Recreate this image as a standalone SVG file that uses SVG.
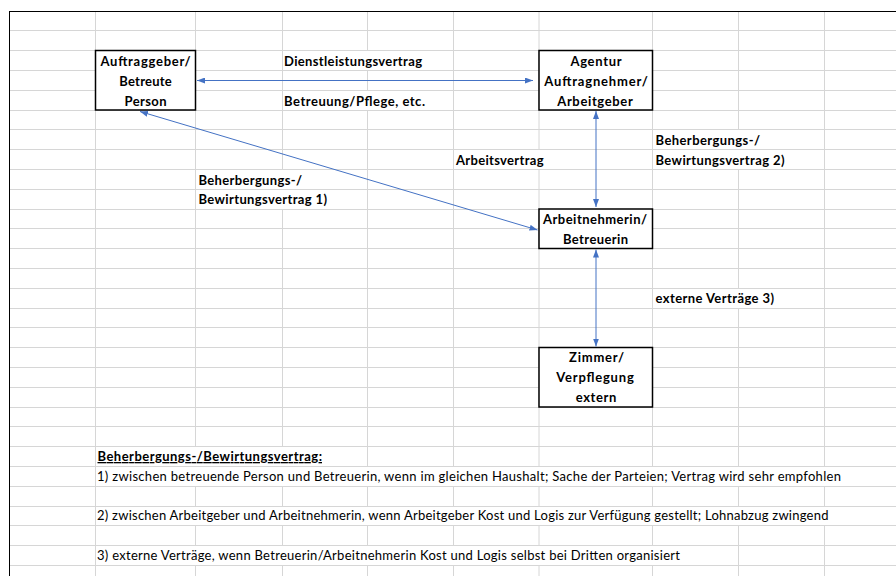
<svg xmlns="http://www.w3.org/2000/svg" width="896" height="576" viewBox="0 0 896 576">
<style>
  .grid{stroke:#d6d6d6;stroke-width:1;fill:none}
  .border{stroke:#000;stroke-width:1;fill:none}
  .box{fill:#fff;stroke:#000;stroke-width:1.5}
  .b{font-family:Lato,"Liberation Sans",sans-serif;font-weight:bold;font-size:13px;fill:#000}
  .r{font-family:Lato,"Liberation Sans",sans-serif;font-size:13px;fill:#000}
  .c{text-anchor:middle}
  .conn{stroke:#4472C4;stroke-width:1;fill:none;marker-start:url(#ah);marker-end:url(#ah)}
</style>
<defs>
  <marker id="ah" viewBox="0 0 8 6" refX="8" refY="3" markerWidth="8" markerHeight="6" markerUnits="userSpaceOnUse" orient="auto-start-reverse">
    <path d="M0,0 L8,3 L0,6 z" fill="#4472C4"/>
  </marker>
</defs>
<rect width="896" height="576" fill="#fff"/>
<g id="grid">
  <path class="grid" d="M9.5 30.5H896M9.5 50.5H896M9.5 70.5H896M9.5 90.5H896M9.5 110.5H896M9.5 129.5H896M9.5 149.5H896M9.5 169.5H896M9.5 189.5H896M9.5 209.5H896M9.5 228.5H896M9.5 248.5H896M9.5 268.5H896M9.5 288.5H896M9.5 308.5H896M9.5 327.5H896M9.5 347.5H896M9.5 367.5H896M9.5 387.5H896M9.5 407.5H896M9.5 426.5H896M9.5 446.5H896M9.5 466.5H896M9.5 486.5H896M9.5 506.5H896M9.5 525.5H896M9.5 545.5H896M9.5 565.5H896"/>
  <path class="grid" d="M95.5 11.5V576
    M195.5 11.5V446.5M195.5 486.5V506.5M195.5 525.5V545.5M195.5 565.5V576
    M282.5 11.5V169.5M282.5 209.5V446.5M282.5 486.5V506.5M282.5 525.5V545.5M282.5 565.5V576
    M367.5 11.5V50.5M367.5 70.5V90.5M367.5 110.5V466.5M367.5 486.5V506.5M367.5 525.5V545.5M367.5 565.5V576
    M453.5 11.5V466.5M453.5 486.5V506.5M453.5 525.5V545.5M453.5 565.5V576
    M539 11.5V149.5M539 169.5V466.5M539 486.5V506.5M539 525.5V545.5M539 565.5V576
    M652.5 11.5V466.5M652.5 486.5V506.5M652.5 525.5V545.5M652.5 565.5V576
    M738.5 11.5V129.5M738.5 169.5V288.5M738.5 308.5V466.5M738.5 486.5V506.5M738.5 525.5V576
    M824.5 11.5V466.5M824.5 486.5V506.5M824.5 525.5V576"/>
  <path class="border" d="M9 11.5H896M9.5 11V576"/>
</g>
<g id="auftraggeber">
  <rect class="box" x="95.5" y="50.5" width="100" height="59.5"/>
  <text class="b c" x="145.5" y="66" textLength="90">Auftraggeber/</text>
  <text class="b c" x="145.5" y="85.75" textLength="52.5">Betreute</text>
  <text class="b c" x="145.5" y="105.5" textLength="42">Person</text>
</g>
<g id="agentur">
  <rect class="box" x="539" y="50.5" width="113.5" height="59.5"/>
  <text class="b c" x="596" y="66" textLength="51">Agentur</text>
  <text class="b c" x="596" y="85.75" textLength="103.5">Auftragnehmer/</text>
  <text class="b c" x="595" y="105.5" textLength="75.5">Arbeitgeber</text>
</g>
<g id="arbeitnehmerin">
  <rect class="box" x="539" y="209" width="113.5" height="39.5"/>
  <text class="b c" x="595" y="224" textLength="104">Arbeitnehmerin/</text>
  <text class="b c" x="595.5" y="243.75" textLength="65">Betreuerin</text>
</g>
<g id="zimmer">
  <rect class="box" x="539" y="347.5" width="113.5" height="59.5"/>
  <text class="b c" x="596.5" y="362.25" textLength="55">Zimmer/</text>
  <text class="b c" x="595" y="382" textLength="77.5">Verpflegung</text>
  <text class="b c" x="596" y="401.75" textLength="40.5">extern</text>
</g>
<g id="connectors">
  <path class="conn" d="M197 80.5H533"/>
  <path class="conn" d="M596 111V207"/>
  <path class="conn" d="M140 111.5L537.5 230"/>
  <path class="conn" d="M596 249.5V346.5"/>
</g>
<g id="labels">
  <text class="b" x="284" y="66" textLength="138">Dienstleistungsvertrag</text>
  <text class="b" x="284" y="105.5" textLength="141">Betreuung/Pflege, etc.</text>
  <text class="b" x="456" y="164.75" textLength="87.5">Arbeitsvertrag</text>
  <text class="b" x="655.5" y="145" textLength="104.5">Beherbergungs-/</text>
  <text class="b" x="655.5" y="164.75" textLength="129">Bewirtungsvertrag 2)</text>
  <text class="b" x="198.5" y="184.5" textLength="103.5">Beherbergungs-/</text>
  <text class="b" x="198.5" y="204.25" textLength="128.5">Bewirtungsvertrag 1)</text>
  <text class="b" x="655.5" y="303" textLength="118.5">externe Verträge 3)</text>
</g>
<g id="notes">
  <text class="b" x="97.5" y="461" textLength="224.5" text-decoration="underline">Beherbergungs-/Bewirtungsvertrag:</text>
  <text class="r" x="97" y="480.75" textLength="744">1) zwischen betreuende Person und Betreuerin, wenn im gleichen Haushalt; Sache der Parteien; Vertrag wird sehr empfohlen</text>
  <text class="r" x="97" y="520.25" textLength="731.5">2) zwischen Arbeitgeber und Arbeitnehmerin, wenn Arbeitgeber Kost und Logis zur Verfügung gestellt; Lohnabzug zwingend</text>
  <text class="r" x="97" y="559.75" textLength="583">3) externe Verträge, wenn Betreuerin/Arbeitnehmerin Kost und Logis selbst bei Dritten organisiert</text>
</g>
</svg>
